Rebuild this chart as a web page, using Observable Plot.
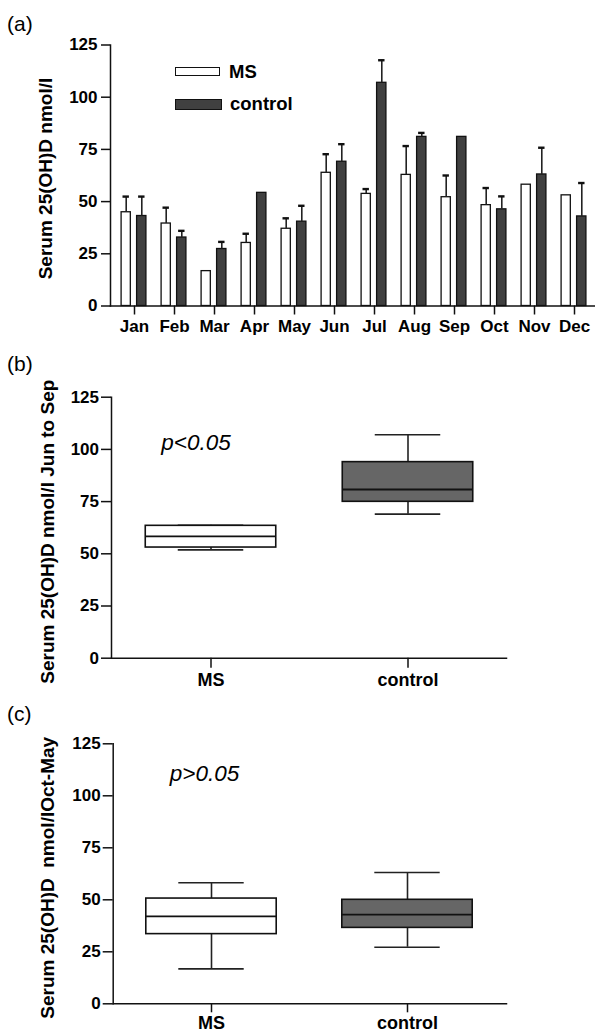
<!DOCTYPE html>
<html>
<head>
<meta charset="utf-8">
<script src="https://cdn.jsdelivr.net/npm/d3@7"></script>
<script src="https://cdn.jsdelivr.net/npm/@observablehq/plot@0.6"></script>
<style>
  body { margin: 0; background: #fff; }
  #wrap { position: relative; width: 595px; height: 1032px; overflow: hidden; font-family: "Liberation Sans", Arial, sans-serif; color: #000; }
  .panel { position: absolute; left: 0; }
  .plab { position: absolute; left: 7px; font-size: 21px; line-height: 1; }
  .legbox { position: absolute; box-sizing: border-box; border: 1.4px solid #111; }
  .legtxt { position: absolute; font-size: 18.5px; font-weight: bold; line-height: 1; }
</style>
</head>
<body>
<div id="wrap"></div>
<script>
// ---------- data ----------
const months = ["Jan","Feb","Mar","Apr","May","Jun","Jul","Aug","Sep","Oct","Nov","Dec"];
const msMean  = [44.9, 39.5, 16.7, 30.2, 37.0, 63.8, 53.7, 62.8, 52.1, 48.3, 58.1, 53.0];
const msErr   = [7.5, 7.6, null, 4.4, 5.0, 8.9, 2.3, 13.8, 10.4, 8.2, null, null];
const ctlMean = [43.1, 32.8, 27.3, 54.2, 40.4, 69.1, 106.9, 81.0, 81.0, 46.3, 63.0, 42.9];
const ctlErr  = [9.3, 3.2, 3.4, null, 7.6, 8.4, 10.8, 1.9, null, 6.2, 12.8, 16.0];

const groups = ["MS", "control"];
const groupFill = ["#ffffff", "#666666"];
// Jun to Sep
const sumMin = [51.9, 69.0];
const sumQ1  = [53.0, 74.9];
const sumMed = [58.3, 80.8];
const sumQ3  = [63.4, 93.9];
const sumMax = [63.7, 107.0];
// Oct to May
const winMin = [16.8, 27.2];
const winQ1  = [33.5, 36.5];
const winMed = [42.0, 42.9];
const winQ3  = [50.6, 50.0];
const winMax = [58.2, 63.1];

const yTicks = [0, 25, 50, 75, 100, 125];
const titleA = "Serum 25(OH)D nmol/l";
const titleB = "Serum 25(OH)D nmol/l Jun to Sep";
const titleC = "Serum 25(OH)D  nmol/lOct-May";
const pB = "p<0.05", pBy = 103;
const pC = "p>0.05", pCy = 110.5;

const FONT = "'Liberation Sans', Arial, Helvetica, sans-serif";
const wrap = document.getElementById("wrap");

function place(el, top) {
  el.classList.add("panel");
  el.style.top = top + "px";
  wrap.appendChild(el);
}
function html(tag, cls, text, css) {
  const e = document.createElement(tag);
  e.className = cls;
  if (text != null) e.textContent = text;
  Object.assign(e.style, css);
  wrap.appendChild(e);
  return e;
}

// ---------- panel (a) ----------
const msData = months.map((m, i) => ({month: m, value: msMean[i], err: msErr[i]}));
const ctlData = months.map((m, i) => ({month: m, value: ctlMean[i], err: ctlErr[i]}));
const msE = msData.filter(d => d.err != null);
const ctlE = ctlData.filter(d => d.err != null);

const bw = 40.58; // band width in px (for insets)
const plotA = Plot.plot({
  width: 595, height: 340,
  marginLeft: 110, marginRight: -2, marginTop: 44.5, marginBottom: 34.5,
  style: {fontFamily: FONT, background: "transparent", color: "#000", overflow: "visible"},
  x: {domain: months, padding: 0, axis: null},
  y: {domain: [0, 125], axis: null},
  marks: [
    Plot.barY(msData, {x: "month", y: "value", fill: "#fff", stroke: "#111", strokeWidth: 1.3, insetLeft: 7.1, insetRight: bw - 7.1 - 9.8}),
    Plot.barY(ctlData, {x: "month", y: "value", fill: "#404040", stroke: "#111", strokeWidth: 1.3, insetLeft: 22.6, insetRight: bw - 22.6 - 9.9}),
    Plot.ruleX(msE, {x: "month", y1: "value", y2: d => d.value + d.err, dx: -8.3, stroke: "#222", strokeWidth: 1.6}),
    Plot.ruleX(ctlE, {x: "month", y1: "value", y2: d => d.value + d.err, dx: 7.3, stroke: "#222", strokeWidth: 1.6}),
    Plot.tickY(msE, {x: "month", y: d => d.value + d.err, insetLeft: 8.5, insetRight: bw - 8.5 - 7, stroke: "#111", strokeWidth: 2.4}),
    Plot.tickY(ctlE, {x: "month", y: d => d.value + d.err, insetLeft: 24.1, insetRight: bw - 24.1 - 7, stroke: "#111", strokeWidth: 2.4}),
    Plot.axisX({tickSize: 9, tickPadding: 5, fontSize: 17, fontWeight: "bold", label: null, stroke: "#111", strokeWidth: 1.5}),
    Plot.axisY({ticks: yTicks, tickSize: 9, tickPadding: 4, fontSize: 17, fontWeight: "bold", label: null, stroke: "#111", strokeWidth: 1.5}),
    Plot.frame({anchor: "left", stroke: "#111", strokeWidth: 1.5}),
    Plot.frame({anchor: "bottom", stroke: "#111", strokeWidth: 1.5}),
    Plot.text([titleA], {frameAnchor: "left", textAnchor: "middle", rotate: -90, dx: -64.5, dy: 3, fontSize: 19, fontWeight: "bold"})
  ]
});
place(plotA, 0);

// legend (a)
html("div", "legbox", null, {left: "175px", top: "67px", width: "45px", height: "9px", background: "#fff"});
html("div", "legbox", null, {left: "175px", top: "99px", width: "47px", height: "11px", background: "#404040"});
html("div", "legtxt", "MS", {left: "229px", top: "63px"});
html("div", "legtxt", "control", {left: "230px", top: "95px"});

// ---------- box panels ----------
function boxPanel(mins, q1s, meds, q3s, maxs, title, pText, pY, opts) {
  const data = groups.map((g, i) => ({group: g, min: mins[i], q1: q1s[i], med: meds[i], q3: q3s[i], max: maxs[i], fill: groupFill[i]}));
  const band = opts.band;
  const boxIn = (band - 131) / 2;
  const capIn = (band - 66) / 2;
  return Plot.plot({
    width: 595, height: opts.height,
    marginLeft: opts.left, marginRight: 89, marginTop: opts.top, marginBottom: opts.bottom,
    style: {fontFamily: FONT, background: "transparent", color: "#000", overflow: "visible"},
    x: {domain: groups, padding: 0, axis: null},
    y: {domain: [0, 125], axis: null},
    marks: [
      Plot.ruleX(data, {x: "group", y1: "min", y2: "q1", stroke: "#222", strokeWidth: 1.6}),
      Plot.ruleX(data, {x: "group", y1: "q3", y2: "max", stroke: "#222", strokeWidth: 1.6}),
      Plot.tickY(data, {x: "group", y: "min", insetLeft: capIn, insetRight: capIn, stroke: "#222", strokeWidth: 1.6}),
      Plot.tickY(data, {x: "group", y: "max", insetLeft: capIn, insetRight: capIn, stroke: "#222", strokeWidth: 1.6}),
      Plot.barY(data, {x: "group", y1: "q1", y2: "q3", fill: "fill", stroke: "#111", strokeWidth: 1.6, insetLeft: boxIn, insetRight: boxIn}),
      Plot.tickY(data, {x: "group", y: "med", insetLeft: boxIn, insetRight: boxIn, stroke: "#111", strokeWidth: 1.8}),
      Plot.axisX({tickSize: opts.xTick, tickPadding: opts.xPad, fontSize: 18, fontWeight: "bold", label: null, stroke: "#111", strokeWidth: 1.5}),
      Plot.axisY({ticks: yTicks, tickSize: 10, tickPadding: 2.5, fontSize: 17, fontWeight: "bold", label: null, stroke: "#111", strokeWidth: 1.5}),
      Plot.frame({anchor: "left", stroke: "#111", strokeWidth: 1.5}),
      Plot.frame({anchor: "bottom", stroke: "#111", strokeWidth: 1.5}),
      Plot.text([pText], {x: ["MS"], y: [pY], dx: opts.pdx, fontSize: 22.5, fontStyle: "italic"}),
      Plot.text([title], {frameAnchor: "left", textAnchor: "middle", rotate: -90, dx: opts.tdx, dy: opts.tdy, fontSize: 19, fontWeight: "bold"})
    ]
  });
}

const plotB = boxPanel(sumMin, sumQ1, sumMed, sumQ3, sumMax, titleB, pB, pBy,
  {height: 360, left: 111, top: 56.7, bottom: 42.3, band: 197.5, xTick: 10, xPad: 5, pdx: -15, tdx: -64, tdy: 4});
place(plotB, 340);

const plotC = boxPanel(winMin, winQ1, winMed, winQ3, winMax, titleC, pC, pCy,
  {height: 332, left: 112.7, top: 43.3, bottom: 28.7, band: 196.6, xTick: 9, xPad: 3, pdx: -7, tdx: -65, tdy: 4});
place(plotC, 700);

// panel letters
html("div", "plab", "(a)", {top: "13px"});
html("div", "plab", "(b)", {top: "353px"});
html("div", "plab", "(c)", {top: "703px"});
</script>
</body>
</html>
